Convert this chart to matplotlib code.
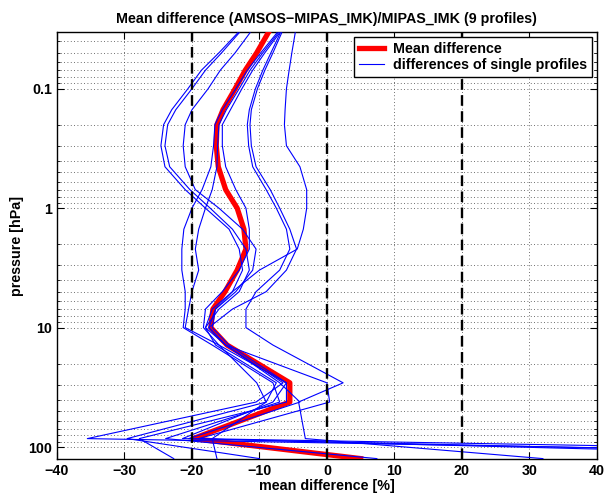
import numpy as np
import matplotlib
matplotlib.use("Agg")
import matplotlib.pyplot as plt
from matplotlib.ticker import FixedLocator, FixedFormatter, LogLocator, NullFormatter

# ---------------- data ----------------
pressure = [0.034, 0.05, 0.07, 0.1, 0.15, 0.2, 0.3, 0.45, 0.7, 1.0, 1.5,
            2.2, 3.3, 5, 7, 10, 14, 29, 42, 85, 125]

mean_diff = [-8.7, -10.4, -12.1, -13.6, -15.4, -16.3, -16.4, -16.1, -15.0, -13.3, -12.3,
             -12.0, -13.3, -15.1, -16.9, -17.2, -14.8, -5.5, -5.5, -19.8, 5.0]

profile_1 = [-13.2, -16.0, -18.6, -20.6, -23.0, -24.2, -24.6, -24.0, -21.0, -18.0, -14.5,
             -13.0, -12.5, -14.0, -16.5, -17.5, -15.0, -6.5, -10.5, -35.5, 130.0]
profile_2 = [-13.0, -15.6, -18.0, -20.0, -22.4, -23.6, -24.0, -23.3, -20.3, -17.3, -14.0,
             -12.0, -11.5, -13.0, -16.0, -18.0, -16.5, -7.5, -9.0, -29.6, -10.0]
profile_3 = [-11.4, -13.6, -15.8, -17.6, -20.0, -21.0, -21.3, -21.0, -19.5, -16.0, -12.5,
             -10.5, -11.0, -13.5, -16.5, -17.0, -14.5, -6.0, -6.0, -27.8, -22.7]
profile_4 = [-7.4, -9.8, -11.8, -13.5, -15.5, -16.6, -16.8, -17.2, -18.5, -20.0, -21.2,
             -21.5, -21.5, -21.0, -21.0, -21.3, -17.0, -8.0, -7.0, -23.9, 7.4]
profile_5 = [-7.2, -9.5, -11.4, -13.0, -14.9, -16.0, -16.2, -16.3, -17.0, -18.0, -19.0,
             -19.5, -19.0, -20.0, -20.5, -21.0, -16.0, -6.0, -8.0, -21.4, 110.0]
profile_6 = [-7.0, -9.2, -11.0, -12.6, -14.3, -15.5, -15.5, -15.0, -13.5, -12.0, -11.5,
             -11.5, -13.0, -15.5, -18.0, -18.3, -16.0, -10.4, -9.0, -17.0, -16.3]
profile_7 = [-6.9, -8.3, -9.5, -10.6, -11.5, -11.8, -11.6, -11.0, -9.0, -7.5, -6.0,
             -5.5, -7.0, -10.5, -12.0, -12.0, -8.0, 2.4, -4.2, -3.2, 32.0]
profile_8 = [-6.7, -8.0, -9.2, -10.3, -11.2, -11.4, -11.2, -10.5, -8.4, -7.0, -5.5,
             -4.5, -6.0, -9.0, -14.0, -17.5, -15.0, 0.0, 0.4, -19.0, 150.0]
profile_9 = [-4.7, -5.2, -5.6, -6.0, -6.2, -6.3, -6.0, -4.0, -3.0, -3.0, -3.5,
             -4.4, -10.0, -14.0, -17.0, -18.0, -15.0, -7.0, -4.0, -20.5, 95.0]

profiles = [profile_1, profile_2, profile_3, profile_4, profile_5,
            profile_6, profile_7, profile_8, profile_9]

ref_lines = [-20, 0, 20]
x_ticks = [-40, -30, -20, -10, 0, 10, 20, 30, 40]
y_ticks = [0.1, 1, 10, 100]
y_tick_labels = ["0.1", "1", "10", "100"]

# ---------------- style ----------------
plt.rcParams["font.family"] = ["Liberation Sans", "DejaVu Sans"]
plt.rcParams["font.weight"] = "bold"
plt.rcParams["axes.labelweight"] = "bold"
plt.rcParams["axes.titleweight"] = "bold"

FS = 10.3

fig = plt.figure(figsize=(6.06, 4.95), dpi=100)
ax = fig.add_axes([0.094, 0.0727, 0.891, 0.862])

ax.plot(mean_diff, pressure, color="#ff0000", lw=3.8, label="Mean difference", zorder=3)
for i, prof in enumerate(profiles):
    ax.plot(prof, pressure, color="#0000ff", lw=0.8,
            label="differences of single profiles" if i == 0 else None, zorder=4)

for xv in ref_lines:
    ax.axvline(xv, color="black", lw=1.7, ls=(0, (4.5, 2.3)), zorder=5)

ax.set_yscale("log")
ax.set_xlim(-40, 40)
ax.set_ylim(126, 0.0337)

ax.xaxis.set_major_locator(FixedLocator(x_ticks))
ax.yaxis.set_major_locator(FixedLocator(y_ticks))
ax.yaxis.set_major_formatter(FixedFormatter(y_tick_labels))
ax.yaxis.set_minor_locator(LogLocator(base=10, subs=np.arange(2, 10)))
ax.yaxis.set_minor_formatter(NullFormatter())

ax.grid(True, which="major", axis="both", color="0.25", ls=(0, (1, 3)), lw=0.6)
ax.grid(True, which="minor", axis="y", color="0.25", ls=(0, (1, 3)), lw=0.6)

ax.tick_params(which="both", direction="in", top=True, right=True, labelsize=FS)
ax.tick_params(which="major", length=5, width=0.8)
ax.tick_params(which="minor", length=2.5, width=0.6)
for sp in ax.spines.values():
    sp.set_linewidth(1.0)

ax.set_title("Mean difference (AMSOS\u2212MIPAS_IMK)/MIPAS_IMK (9 profiles)",
             fontsize=FS, fontweight="bold", pad=7)
ax.set_xlabel("mean difference [%]", fontsize=FS, labelpad=1)
ax.set_ylabel("pressure [hPa]", fontsize=FS, labelpad=3)

leg = ax.legend(loc="upper right", fontsize=FS, frameon=True, fancybox=False,
                edgecolor="black", framealpha=1.0, borderaxespad=0.35,
                handlelength=1.75, handletextpad=0.6, borderpad=0.35,
                labelspacing=0.1)
leg.get_frame().set_linewidth(1.0)
for t in leg.get_texts():
    t.set_fontweight("bold")

fig.savefig("out.png", dpi=100)
